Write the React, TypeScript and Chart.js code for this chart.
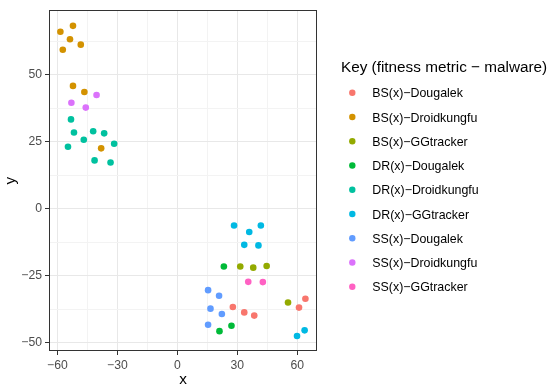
import React, { useEffect, useRef } from 'react';
import { Chart, registerables } from 'chart.js';

Chart.register(...registerables);

// ---- data ----
const seriesLabels = [
  'BS(x)−Dougalek',
  'BS(x)−Droidkungfu',
  'BS(x)−GGtracker',
  'DR(x)−Dougalek',
  'DR(x)−Droidkungfu',
  'DR(x)−GGtracker',
  'SS(x)−Dougalek',
  'SS(x)−Droidkungfu',
  'SS(x)−GGtracker',
];

const bsDougalek = [[27.8, -36.6], [33.5, -38.6], [38.5, -39.8], [60.9, -36.8], [64.1, -33.5]];
const bsDroidkungfu = [[-58.5, 66.1], [-52.2, 68.3], [-53.7, 63.3], [-57.3, 59.4], [-48.3, 61.3], [-52.2, 45.9], [-46.5, 43.6], [-38.1, 22.6]];
const bsGGtracker = [[31.5, -21.5], [38.0, -21.9], [44.7, -21.3], [55.4, -34.9]];
const drDougalek = [[23.3, -21.5], [21.1, -45.6], [27.1, -43.6]];
const drDroidkungfu = [[-53.2, 33.4], [-51.7, 28.5], [-42.1, 29.0], [-36.6, 28.2], [-46.8, 25.8], [-54.7, 23.2], [-31.6, 24.3], [-41.4, 18.1], [-33.4, 17.3]];
const drGGtracker = [[28.4, -6.2], [41.8, -6.2], [36.0, -8.6], [33.5, -13.4], [40.6, -13.6], [59.9, -47.4], [63.7, -45.3]];
const ssDougalek = [[15.4, -30.3], [20.9, -32.4], [16.6, -37.2], [22.3, -39.2], [15.4, -43.2]];
const ssDroidkungfu = [[-53.0, 39.6], [-40.4, 42.5], [-45.8, 37.8]];
const ssGGtracker = [[35.5, -27.2], [42.8, -27.3]];

const seriesPoints = [bsDougalek, bsDroidkungfu, bsGGtracker, drDougalek, drDroidkungfu, drGGtracker, ssDougalek, ssDroidkungfu, ssGGtracker];

const seriesColors = ['#F8766D', '#D39200', '#93AA00', '#00BA38', '#00C19F', '#00B9E3', '#619CFF', '#DB72FB', '#FF61C3'];

const xTickValues = [-60, -45, -30, -15, 0, 15, 30, 45, 60];
const xLabelStep = 30;
const yTickValues = [-50, -37.5, -25, -12.5, 0, 12.5, 25, 37.5, 50, 62.5];
const yLabelStep = 25;

const legendTitle = 'Key (fitness metric − malware)';

const FONT = "'Liberation Sans', Arial, Helvetica, sans-serif";

const fmt = (v: number) => String(v).replace('-', '\u2212');

const panelBorder = {
  id: 'panelBorder',
  afterDatasetsDraw(chart: any) {
    const { ctx, chartArea } = chart;
    ctx.save();
    ctx.strokeStyle = '#333333';
    ctx.lineWidth = 1;
    ctx.strokeRect(
      Math.round(chartArea.left) + 0.5,
      Math.round(chartArea.top) + 0.5,
      Math.round(chartArea.right - chartArea.left) - 1,
      Math.round(chartArea.bottom - chartArea.top) - 1
    );
    ctx.restore();
  },
};

const ggLegend = {
  id: 'ggLegend',
  afterDraw(chart: any) {
    const { ctx } = chart;
    ctx.save();
    ctx.fillStyle = '#000000';
    ctx.font = `15.3px ${FONT}`;
    ctx.textBaseline = 'alphabetic';
    ctx.textAlign = 'left';
    ctx.fillText(legendTitle, 341, 71.7);
    ctx.font = `12.4px ${FONT}`;
    chart.data.datasets.forEach((ds: any, i: number) => {
      const y = 92.7 + i * 24.25;
      ctx.beginPath();
      ctx.fillStyle = ds.backgroundColor;
      ctx.arc(352.3, y, 3.2, 0, Math.PI * 2);
      ctx.fill();
      ctx.fillStyle = '#000000';
      ctx.fillText(ds.label, 372.3, y + 4.6);
    });
    ctx.restore();
  },
};

export default function App() {
  const ref = useRef<HTMLCanvasElement | null>(null);

  useEffect(() => {
    if (!ref.current) return;
    const datasets = seriesLabels.map((label, i) => ({
      label,
      data: seriesPoints[i].map(([x, y]) => ({ x, y })),
      backgroundColor: seriesColors[i],
      borderColor: seriesColors[i],
      borderWidth: 0,
      pointRadius: 3.3,
    }));

    const gridColor = (step: number) => (ctx: any) =>
      ctx.tick && Math.abs(ctx.tick.value % step) < 1e-9 ? '#E8E8E8' : '#F3F3F3';
    const tickColor = (step: number) => (ctx: any) =>
      ctx.tick && Math.abs(ctx.tick.value % step) < 1e-9 ? '#333333' : 'rgba(0,0,0,0)';

    const chart = new Chart(ref.current, {
      type: 'scatter',
      data: { datasets },
      plugins: [panelBorder, ggLegend],
      options: {
        animation: false,
        responsive: false,
        devicePixelRatio: 1,
        events: [],
        layout: { padding: { left: 0, top: 5, right: 233, bottom: 0 } },
        plugins: { legend: { display: false }, tooltip: { enabled: false } },
        scales: {
          x: {
            type: 'linear',
            min: -64.2,
            max: 69.9,
            afterBuildTicks: (scale: any) => {
              scale.ticks = xTickValues.map((value) => ({ value }));
            },
            afterFit: (scale: any) => {
              scale.height = 41;
            },
            border: { display: false },
            grid: {
              color: gridColor(xLabelStep),
              lineWidth: 1,
              tickColor: tickColor(xLabelStep),
              tickLength: 4,
              tickWidth: 1,
            },
            ticks: {
              autoSkip: false,
              maxRotation: 0,
              padding: 3,
              color: '#4D4D4D',
              font: { family: FONT, size: 12.2 },
              callback: (v: any) => (Math.abs(Number(v) % xLabelStep) < 1e-9 ? fmt(Number(v)) : ''),
            },
            title: {
              display: true,
              text: 'x',
              color: '#000000',
              font: { family: FONT, size: 15.3 },
              padding: { top: 0, bottom: 3 },
            },
          },
          y: {
            type: 'linear',
            min: -53.0,
            max: 74.1,
            afterBuildTicks: (scale: any) => {
              scale.ticks = yTickValues.map((value) => ({ value }));
            },
            afterFit: (scale: any) => {
              scale.width = 49;
            },
            border: { display: false },
            grid: {
              color: gridColor(yLabelStep),
              lineWidth: 1,
              tickColor: tickColor(yLabelStep),
              tickLength: 4,
              tickWidth: 1,
            },
            ticks: {
              autoSkip: false,
              padding: 3,
              color: '#4D4D4D',
              font: { family: FONT, size: 12.2 },
              callback: (v: any) => (Math.abs(Number(v) % yLabelStep) < 1e-9 ? fmt(Number(v)) : ''),
            },
            title: {
              display: true,
              text: 'y',
              color: '#000000',
              font: { family: FONT, size: 15.3 },
              padding: { top: 2, bottom: 0 },
            },
          },
        },
      } as any,
    });
    return () => chart.destroy();
  }, []);

  return (
    <div style={{ position: 'absolute', left: 0, top: 0, width: 550, height: 392, background: '#ffffff' }}>
      <canvas ref={ref} width={550} height={392} style={{ display: 'block' }} />
    </div>
  );
}
